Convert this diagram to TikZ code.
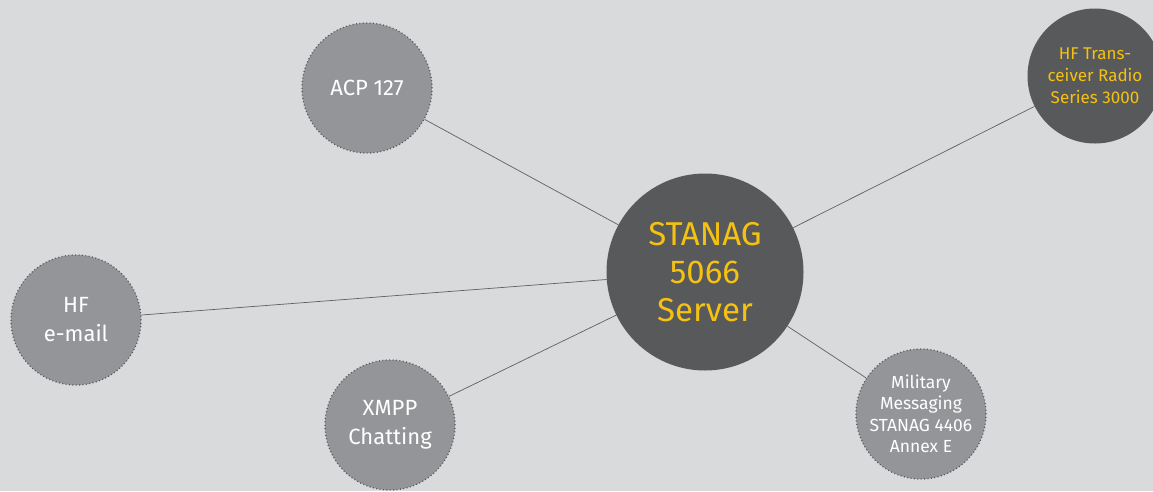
\documentclass[tikz,border=0pt]{standalone}
\usepackage{fontspec}
\setmainfont{Fira Sans}
\definecolor{bg}{HTML}{D9DADB}
\definecolor{lightc}{HTML}{939598}
\definecolor{darkc}{HTML}{58595B}
\definecolor{edgec}{HTML}{5F6062}
\definecolor{yel}{HTML}{F5C211}
\tikzset{
  lightnode/.style={circle, fill=lightc, draw=darkc, line width=1.3pt,
    dash pattern=on 1pt off 2.4pt, minimum size=130pt, inner sep=0pt,
    text=white, align=center},
  darknode/.style={circle, fill=darkc, draw=none, inner sep=0pt,
    text=yel, align=center},
  link/.style={draw=edgec, line width=0.7pt}
}
\begin{document}
\begin{tikzpicture}[x=1pt,y=-1pt]
\useasboundingbox (0,0) rectangle (1153,491);
\fill[bg] (0,0) rectangle (1153,491);
\node[darknode, minimum size=197pt, font=\fontsize{33}{38}\selectfont] (srv) at (705,272) {STANAG\\5066\\Server};
\node[darknode, minimum size=135pt, font=\fontsize{17}{22}\selectfont] (hf) at (1095,76) {HF Trans-\\ceiver Radio\\Series 3000};
\node[lightnode, font=\fontsize{22}{27}\selectfont] (acp) at (367,88) {ACP 127};
\node[lightnode, font=\fontsize{22}{29}\selectfont] (mail) at (76,320) {HF\\e-mail};
\node[lightnode, font=\fontsize{22}{29}\selectfont] (xmpp) at (390,425) {XMPP\\Chatting};
\node[lightnode, font=\fontsize{17.5}{21.5}\selectfont] (mil) at (921,414) {Military\\Messaging\\STANAG 4406\\Annex E};
\draw[link] (acp) -- (srv);
\draw[link] (mail) -- (srv);
\draw[link] (xmpp) -- (srv);
\draw[link] (mil) -- (srv);
\draw[link] (hf) -- (srv);
\end{tikzpicture}
\end{document}
